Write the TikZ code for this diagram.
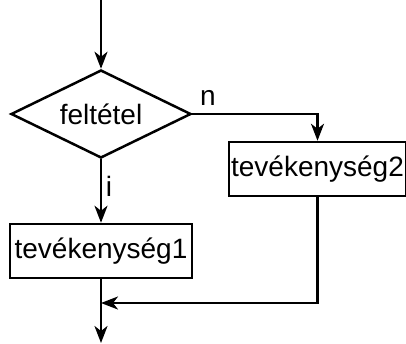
\documentclass[tikz,border=0pt]{standalone}
\usepackage{fontspec}
\setmainfont{Liberation Sans}
\usetikzlibrary{shapes.geometric,arrows.meta}
\begin{document}
\begin{tikzpicture}[x=1pt,y=-1pt,
  line width=2.5pt,
  every node/.style={font=\fontsize{28}{34}\selectfont, inner sep=0pt},
  arr/.style={-{Stealth[length=17pt,width=13pt,inset=5pt]}},
  actbox/.style={draw, rectangle, minimum height=54pt},
  cond/.style={draw, diamond, minimum width=180pt, minimum height=88pt, aspect=2.05},
  lbl/.style={font=\fontsize{28}{34}\selectfont}
]
\useasboundingbox (0,0) rectangle (406,343);
\node[cond] (d) at (101,114) {feltétel};
\node[actbox, minimum width=182pt] (b1) at (101,251) {tevékenység1};
\node[actbox, minimum width=177pt] (b2) at (317.5,169) {tevékenység2};
\coordinate (top) at (101,0);
\coordinate (bot) at (101,343);
\coordinate (m) at (101,303);
\draw[arr] (top) -- (d.north);
\draw[arr] (d.east) -| (b2.north);
\draw[arr] (d.south) -- (b1.north);
\draw[arr] (b2.south) |- (m);
\draw[arr] (b1.south) -- (bot);
\node[lbl, anchor=center] (n) at (208,98) {n};
\node[lbl, anchor=center] (i) at (109,186) {i};
\end{tikzpicture}
\end{document}
